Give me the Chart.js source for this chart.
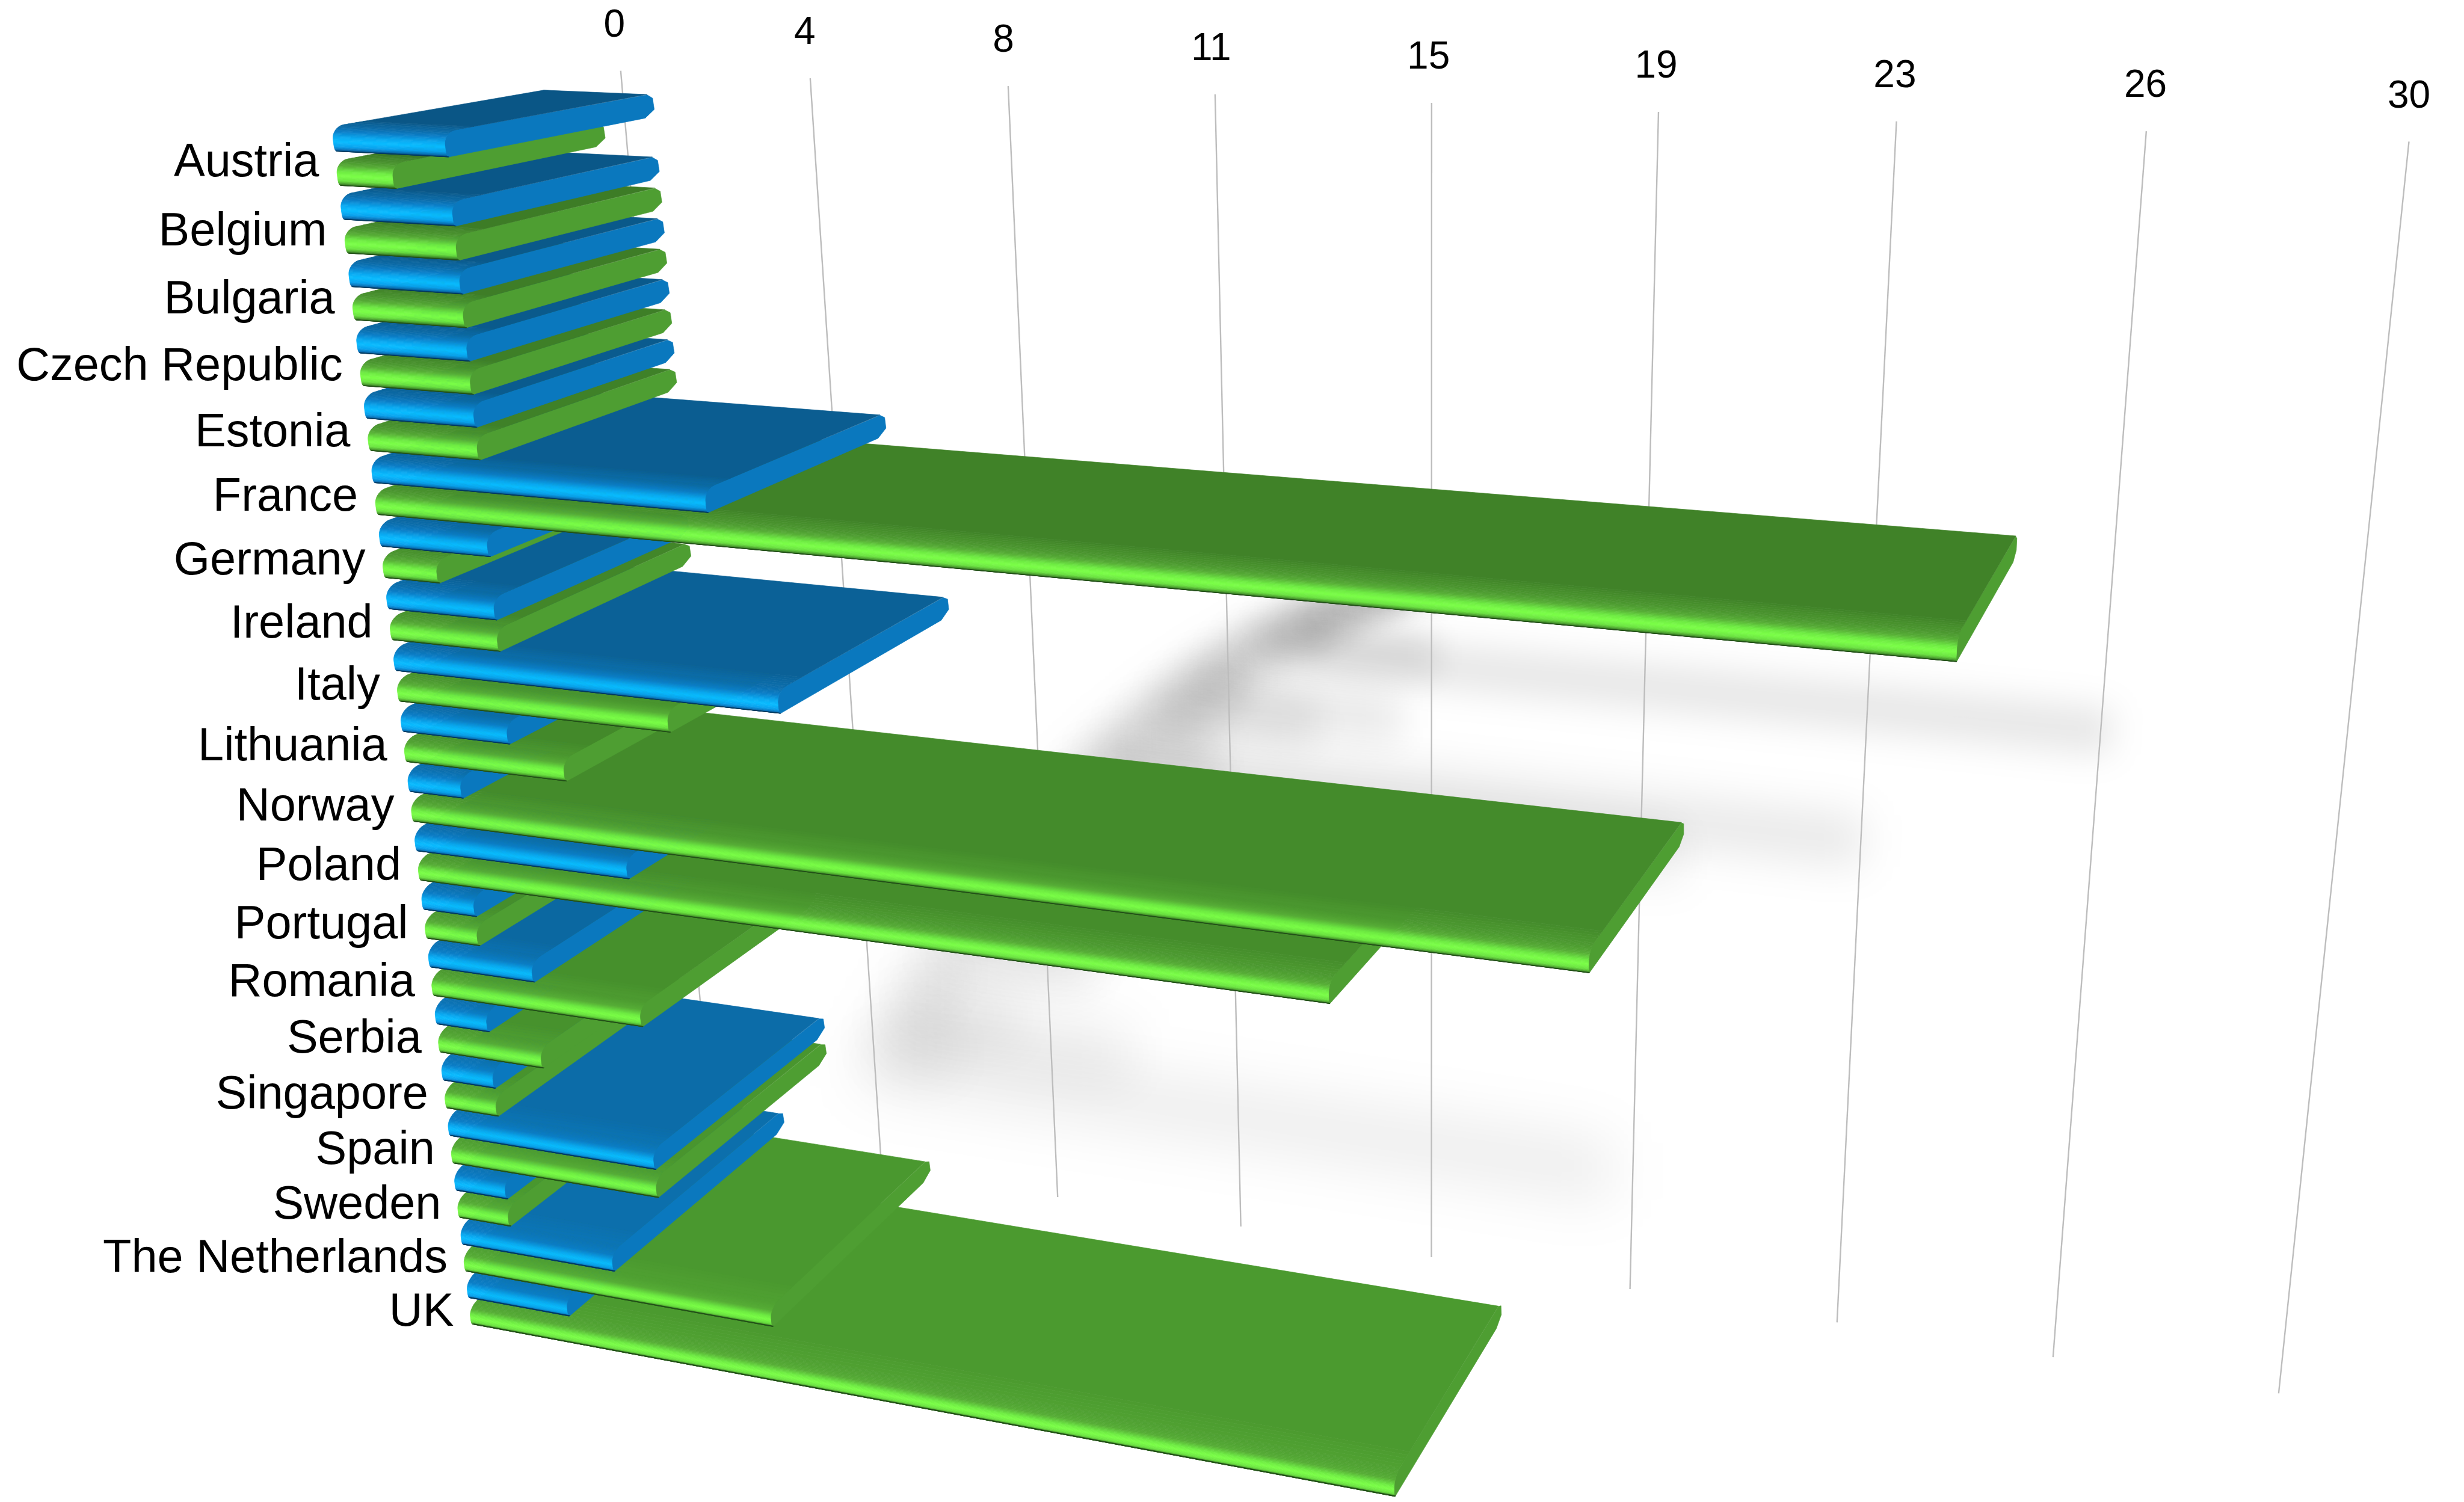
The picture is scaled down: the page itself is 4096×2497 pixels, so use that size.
<!DOCTYPE html>
<html>
<head>
<meta charset="utf-8">
<style>
  html, body { margin: 0; padding: 0; background: #fff; }
  canvas { display: block; }
</style>
<script src="https://cdn.jsdelivr.net/npm/chart.js@4/dist/chart.umd.min.js"></script>
</head>
<body>
<canvas id="chart" width="4096" height="2497"></canvas>
<script>
// Chart values
const categories = ['Austria', 'Belgium', 'Bulgaria', 'Czech Republic', 'Estonia', 'France', 'Germany',
  'Ireland', 'Italy', 'Lithuania', 'Norway', 'Poland', 'Portugal', 'Romania', 'Serbia', 'Singapore',
  'Spain', 'Sweden', 'The Netherlands', 'UK'];
const blueValues  = [2, 2, 2, 2, 2, 6, 2, 2, 7, 2, 1, 4, 1, 2, 1, 1, 4, 1, 3, 2];
const greenValues = [1, 2, 2, 2, 2, 25, 1, 2, 5, 3, 20, 16, 1, 4, 2, 1, 4, 1, 6, 17];
const axisMax = 30;
const axisStep = 3.75;

// Three-point perspective camera. t = axis value, s = position down the wall, z = distance from the wall.
const UNIT = 4096 / 1568;
const ORIGIN = [395, 45];
const VP_T = [-5150, -175];
const VP_S = [910, 6075];
const VP_Z = [1578, -149];
const T_WEIGHT = -0.005676;
const WALL_BOTTOM = 0.1274;

function project(t, s, z) {
  const k = T_WEIGHT * t;
  const w = 1 + k + s + z;
  return [
    UNIT * (ORIGIN[0] + k * VP_T[0] + s * VP_S[0] + z * VP_Z[0]) / w,
    UNIT * (ORIGIN[1] + k * VP_T[1] + s * VP_S[1] + z * VP_Z[1]) / w
  ];
}

// Layout of the bars in depth
const ROW_STEP = 0.00632;
const ROW_START = 0.00025;
const Z_FRONT = -0.135;
const Z_BACK = -0.037;
const NOSE = 0.005;
const LEAD_IN = 0.008;
const FRONT_DROP = 0.0059;   // how far the front edge of a slab dips, per unit of s

const PALETTES = [
  { // blue series
    topFar: [10, 86, 134], topNear: [12, 112, 174], cap: [10, 120, 190],
    band: [[0.2, [10, 125, 198]], [0.42, [9, 168, 240]], [0.6, [8, 188, 255]], [0.8, [9, 160, 236]], [0.93, [8, 108, 178]], [1, [4, 56, 92]]]
  },
  { // green series
    topFar: [60, 122, 38], topNear: [75, 154, 47], cap: [78, 158, 50],
    band: [[0.2, [86, 172, 54]], [0.42, [110, 235, 66]], [0.6, [123, 255, 71]], [0.8, [106, 226, 64]], [0.93, [68, 146, 42]], [1, [34, 78, 24]]]
  }
];

const css = c => `rgb(${c.map(Math.round).join(',')})`;
const mix = (a, b, f) => a.map((v, i) => v + (b[i] - v) * f);
function bandColor(stops, u) {
  for (let i = 1; i < stops.length; i++) {
    if (u <= stops[i][0]) {
      return mix(stops[i - 1][1], stops[i][1], (u - stops[i - 1][0]) / (stops[i][0] - stops[i - 1][0]));
    }
  }
  return stops[stops.length - 1][1];
}

function polygon(ctx, pts, color) {
  ctx.beginPath();
  pts.forEach((p, i) => (i ? ctx.lineTo(p[0], p[1]) : ctx.moveTo(p[0], p[1])));
  ctx.closePath();
  ctx.fillStyle = color;
  ctx.strokeStyle = color;
  ctx.lineWidth = 0.7;
  ctx.fill();
  ctx.stroke();
}

// Rounded nose of a slab: curves off the top surface, then drops nearly straight to the underside
function noseProfile(sTop, h) {
  const pts = [];
  const N = 32;
  for (let j = 0; j <= N; j++) {
    const u = j / N;
    const th = Math.PI * u;
    const v = (1 - Math.cos(th)) / 2;
    const z = u < 0.5
      ? Z_FRONT + NOSE * (1 - Math.sin(th))
      : Z_FRONT + 0.0012 * Math.pow((u - 0.5) * 2, 3);
    pts.push({ s: sTop + h * v, z, v });
  }
  return pts;
}

function drawSlab(ctx, t0, t1, sTop, h, palette, rowFrac) {
  // point on this slab, with the front edge dipping slightly further down the lower rows
  const drop = 0.0001 + FRONT_DROP * sTop;
  const at = (t, s, z) => project(t, s + drop * (Z_BACK - z) / (Z_BACK - Z_FRONT), z);

  const nose = noseProfile(sTop, h);
  // end face
  const cap = nose.map(p => at(t1, p.s, p.z));
  cap.push(at(t1, sTop + h, Z_BACK - 0.005));
  cap.push(at(t1, sTop + 0.7 * h, Z_BACK));
  cap.push(at(t1, sTop + 0.2 * h, Z_BACK - 0.0004));
  cap.push(at(t1, sTop + 0.02 * h, Z_BACK - 0.003));
  polygon(ctx, cap, css(palette.cap));

  // top surface
  const top = mix(palette.topFar, palette.topNear, rowFrac);
  const zEdge = Z_FRONT + NOSE;
  polygon(ctx, [at(t0, sTop, Z_BACK - 0.003), at(t1, sTop, Z_BACK - 0.003),
    at(t1, sTop, zEdge + LEAD_IN), at(t0, sTop, zEdge + LEAD_IN)], css(top));

  // soft lead-in, then the front band running through its highlight to the dark lower edge
  const first = palette.band[0][1];
  const leadEnd = mix(top, first, 0.35);
  for (let j = 0; j < 5; j++) {
    const za = zEdge + LEAD_IN * (1 - j / 5), zb = zEdge + LEAD_IN * (1 - (j + 1) / 5);
    polygon(ctx, [at(t0, sTop, za), at(t1, sTop, za), at(t1, sTop, zb), at(t0, sTop, zb)],
      css(mix(top, leadEnd, (j + 1) / 5)));
  }
  const stops = [[0, leadEnd]].concat(palette.band);
  for (let j = 0; j < nose.length - 1; j++) {
    const a = nose[j], b = nose[j + 1];
    polygon(ctx, [at(t0, a.s, a.z), at(t1, a.s, a.z), at(t1, b.s, b.z), at(t0, b.s, b.z)],
      css(bandColor(stops, (a.v + b.v) / 2)));
  }
}

// Soft shadow of a bar thrown on the back wall
function drawWallShadow(ctx, value, sTop) {
  const row = (sTop - 0.0011) / ROW_STEP;
  const stretch = 0.5 + 0.0195 * row;
  const start = 15.3 - 0.52 * row - 2 * stretch;
  const sWall = 0.0494 + 0.00089 * row + 0.000124 * row * row;
  const half = 0.002 + 0.00008 * row;
  const end = value * stretch + start;
  ctx.save();
  ctx.filter = `blur(${(20 + row * 1.4).toFixed(1)}px)`;
  ctx.fillStyle = `rgba(0,0,0,${(0.1 - row * 0.0014).toFixed(4)})`;
  ctx.beginPath();
  [[start, sWall - half], [end, sWall - half], [end, sWall + half], [start, sWall + half]].forEach((q, i) => {
    const p = project(q[0], q[1], 0);
    if (i) ctx.lineTo(p[0], p[1]); else ctx.moveTo(p[0], p[1]);
  });
  ctx.closePath();
  ctx.fill();
  ctx.restore();
}

const perspectivePlugin = {
  id: 'perspective',
  beforeDatasetsDraw(chart) {
    const ctx = chart.ctx;
    const xScale = chart.scales.x, yScale = chart.scales.y;
    const area = chart.chartArea;
    const toS = py => ROW_START + (py - area.top) / area.height * categories.length * ROW_STEP;

    ctx.save();

    // Collect every bar from the chart's own layout
    const bars = [];
    chart.data.datasets.forEach((ds, d) => {
      chart.getDatasetMeta(d).data.forEach((el, i) => {
        bars.push({
          d, i,
          t0: xScale.getValueForPixel(el.base),
          t1: xScale.getValueForPixel(el.x),
          sTop: toS(el.y - el.height / 2),
          h: toS(el.y + el.height / 2) - toS(el.y - el.height / 2)
        });
      });
    });

    // Wall: shadows, then grid lines
    bars.forEach(b => drawWallShadow(ctx, b.t1, b.sTop));
    ctx.strokeStyle = '#bdbdbd';
    ctx.lineWidth = 2.4;
    xScale.ticks.forEach(tick => {
      const a = project(tick.value, 0, 0), b = project(tick.value, WALL_BOTTOM, 0);
      ctx.beginPath();
      ctx.moveTo(a[0], a[1]);
      ctx.lineTo(b[0], b[1]);
      ctx.stroke();
    });

    // Bars, far rows last so that upper slabs cover those below them
    bars.sort((p, q) => q.i - p.i || q.d - p.d);
    bars.forEach(b => drawSlab(ctx, b.t0, b.t1, b.sTop, b.h, PALETTES[b.d], b.i / (categories.length - 1)));

    // Value axis labels
    ctx.fillStyle = '#000';
    ctx.textAlign = 'center';
    ctx.textBaseline = 'middle';
    ctx.font = "64px 'Liberation Sans', Arial, sans-serif";
    xScale.ticks.forEach(tick => {
      const p = project(tick.value, 0, 0);
      ctx.fillText(tick.label, p[0] + UNIT * (-4 + 4 * tick.value / axisMax), p[1] - UNIT * 28.5);
    });

    // Category labels
    ctx.textAlign = 'right';
    ctx.font = "77.5px 'Liberation Sans', Arial, sans-serif";
    yScale.ticks.forEach((tick, i) => {
      const sRow = toS(yScale.getPixelForTick(i)) - ROW_STEP / 2 + 0.0025;
      const p = project(-0.28, sRow, Z_FRONT);
      ctx.fillText(categories[i], p[0] + UNIT * 0.2, p[1] + UNIT * (10 + 6 * (1 - Math.exp(-i / 6))));
    });

    ctx.restore();
    return false;
  }
};

new Chart(document.getElementById('chart'), {
  type: 'bar',
  data: {
    labels: categories,
    datasets: [
      { label: 'Series 1', data: blueValues, backgroundColor: '#0a78be', categoryPercentage: 1, barPercentage: 0.73 },
      { label: 'Series 2', data: greenValues, backgroundColor: '#4e9e32', categoryPercentage: 1, barPercentage: 0.73 }
    ]
  },
  options: {
    indexAxis: 'y',
    responsive: false,
    animation: false,
    devicePixelRatio: 1,
    plugins: { legend: { display: false }, tooltip: { enabled: false }, title: { display: false } },
    scales: {
      x: {
        display: false, min: 0, max: axisMax,
        ticks: { stepSize: axisStep, autoSkip: false, callback: v => String(Math.round(v)) }
      },
      y: { display: false, ticks: { autoSkip: false } }
    }
  },
  plugins: [perspectivePlugin]
});
</script>
</body>
</html>
